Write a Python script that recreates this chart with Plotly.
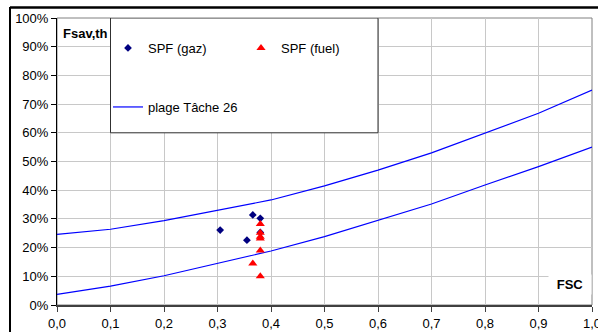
import plotly.graph_objects as go

# Curves "plage Tâche 26"
fsc_curve = [0.0, 0.1, 0.2, 0.3, 0.4, 0.5, 0.6, 0.7, 0.8, 0.9, 1.0]
upper_curve = [0.246, 0.264, 0.294, 0.329, 0.366, 0.415, 0.470, 0.530, 0.600, 0.668, 0.749]
lower_curve = [0.037, 0.066, 0.102, 0.145, 0.188, 0.238, 0.294, 0.352, 0.418, 0.482, 0.550]

# SPF (gaz)
gaz_x = [0.305, 0.355, 0.366, 0.380, 0.380]
gaz_y = [0.261, 0.226, 0.314, 0.302, 0.253]

# SPF (fuel)
fuel_x = [0.380, 0.380, 0.380, 0.380, 0.380, 0.366, 0.380]
fuel_y = [0.282, 0.252, 0.238, 0.232, 0.190, 0.145, 0.100]

x_ticks = [0.0, 0.1, 0.2, 0.3, 0.4, 0.5, 0.6, 0.7, 0.8, 0.9, 1.0]
y_ticks = [0.0, 0.1, 0.2, 0.3, 0.4, 0.5, 0.6, 0.7, 0.8, 0.9, 1.0]

FONT = "Liberation Sans, Arial, sans-serif"

fig = go.Figure()
fig.add_trace(go.Scatter(x=fsc_curve, y=upper_curve, mode="lines",
                         line=dict(color="#0000FF", width=1.2),
                         name="plage Tâche 26", legend="legend2"))
fig.add_trace(go.Scatter(x=fsc_curve, y=lower_curve, mode="lines",
                         line=dict(color="#0000FF", width=1.2),
                         name="plage Tâche 26", legend="legend2", showlegend=False))
fig.add_trace(go.Scatter(x=gaz_x, y=gaz_y, mode="markers",
                         marker=dict(symbol="diamond", size=6, color="#000080"),
                         name="SPF (gaz)", legend="legend"))
fig.add_trace(go.Scatter(x=fuel_x, y=fuel_y, mode="markers",
                         marker=dict(symbol="triangle-up", size=8, color="#FF0000"),
                         name="SPF (fuel)", legend="legend"))

L, R, T, B = 57, 6, 18, 27
W, H = 598, 332
pw, ph = W - L - R, H - T - B

def px(xp):
    return (xp - L) / pw

def py(yp):
    return 1 - (yp - T) / ph

fig.update_layout(
    width=W, height=H,
    margin=dict(l=L, r=R, t=T, b=B, autoexpand=False),
    paper_bgcolor="white", plot_bgcolor="white",
    separators=", ",
    font=dict(family=FONT, size=13, color="black"),
    xaxis=dict(range=[0, 1], tickvals=x_ticks, tickformat=".1f",
               showgrid=True, gridcolor="#C8C8C8", gridwidth=1,
               showline=True, linecolor="#404040", linewidth=2,
               ticks="outside", ticklen=5, tickcolor="#404040",
               zeroline=False, fixedrange=True, automargin=False,
               ticklabeloverflow="allow"),
    yaxis=dict(range=[0, 1], tickvals=y_ticks, tickformat=".0%",
               showgrid=True, gridcolor="#C8C8C8", gridwidth=1,
               showline=True, linecolor="black", linewidth=1,
               ticks="outside", ticklen=5, tickcolor="black",
               zeroline=False, fixedrange=True, automargin=False),
    legend=dict(orientation="h", x=px(108), y=py(33), xanchor="left", yanchor="top",
                entrywidth=88, bgcolor="rgba(0,0,0,0)", borderwidth=0,
                font=dict(family=FONT, size=13)),
    legend2=dict(orientation="h", x=px(108), y=py(92), xanchor="left", yanchor="top",
                 bgcolor="rgba(0,0,0,0)", borderwidth=0,
                 font=dict(family=FONT, size=13)),
    showlegend=True,
)

shapes = [
    # plot area border (top/right)
    dict(type="rect", xref="paper", yref="paper", x0=0, x1=1, y0=0, y1=1,
         line=dict(color="#808080", width=1), layer="below"),
    # legend box
    dict(type="rect", xref="x", yref="y", x0=0.1, x1=0.6, y0=0.6, y1=1.0,
         line=dict(color="#303030", width=1), fillcolor="white", layer="above"),
    # outer chart frame (left and top)
    dict(type="line", xref="paper", yref="paper", x0=px(10), x1=px(10), y0=py(7), y1=py(400),
         line=dict(color="black", width=2)),
    dict(type="line", xref="paper", yref="paper", x0=px(10), x1=px(700), y0=py(7.5), y1=py(7.5),
         line=dict(color="black", width=2.5)),
]
fig.update_layout(shapes=shapes)

fig.add_annotation(text="<b>Fsav,th</b>", xref="paper", yref="paper",
                   x=px(61), y=py(33), xanchor="left", yanchor="middle",
                   showarrow=False, bgcolor="white", font=dict(size=13))
fig.add_annotation(text="<b>FSC</b>", xref="paper", yref="paper",
                   x=1, y=py(284), xanchor="right", yanchor="middle",
                   showarrow=False, bgcolor="white", width=38, borderpad=2,
                   font=dict(size=13))

fig.write_html("out.html")
